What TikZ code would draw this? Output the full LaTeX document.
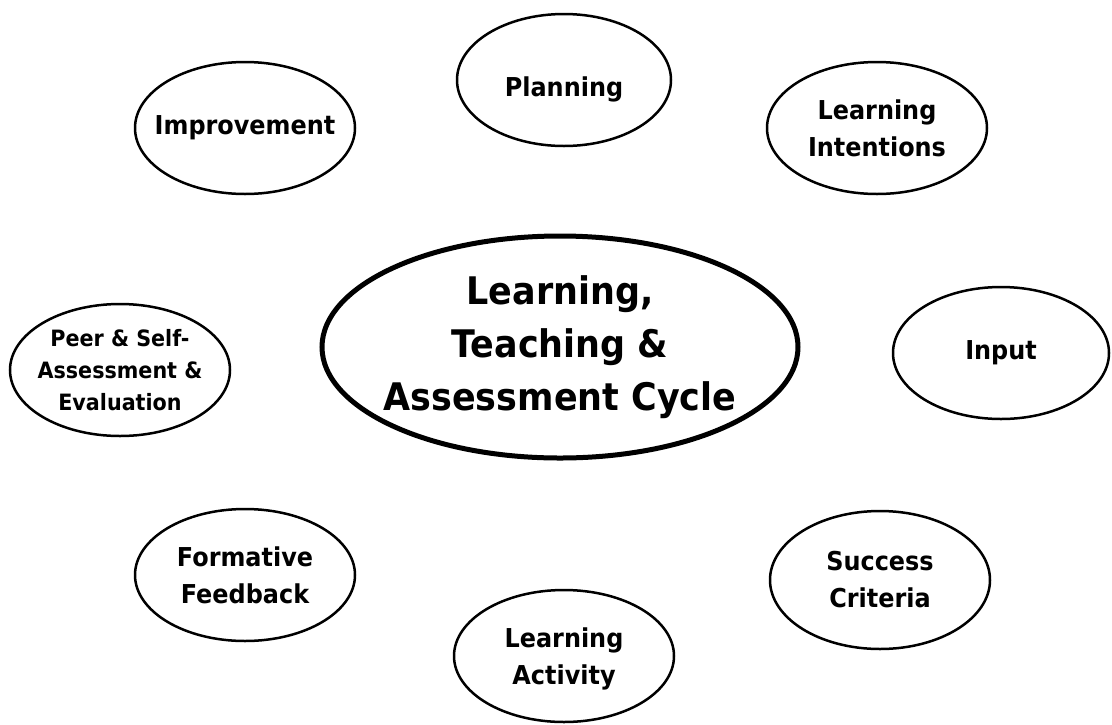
\documentclass[tikz,border=0pt]{standalone}
\usepackage{fontspec}
\setmainfont{DejaVu Sans}[FakeStretch=0.92]
\usetikzlibrary{shapes.geometric}
\begin{document}
\begin{tikzpicture}[x=1pt,y=-1pt,
  bub/.style={ellipse, draw, line width=2.5pt, inner sep=0pt,
    minimum width=220pt, minimum height=132pt},
  hub/.style={ellipse, draw, line width=5pt, inner sep=0pt,
    minimum width=476pt, minimum height=222pt},
  txt/.style={inner sep=0pt, align=center,
    font=\fontsize{26}{37}\selectfont\bfseries},
  hubtxt/.style={inner sep=0pt, align=center,
    font=\fontsize{38}{53}\selectfont\bfseries}]
\useasboundingbox (0,0) rectangle (1112,724);
% ellipses
\node[hub] (hub) at (560,347) {};
\node[bub, minimum width=214pt] (plan) at (564,80) {};
\node[bub] (impr) at (245,128) {};
\node[bub] (li) at (877,128) {};
\node[bub] (peer) at (120,370) {};
\node[bub, minimum width=216pt] (input) at (1001,353) {};
\node[bub] (form) at (245,575) {};
\node[bub, minimum height=138pt] (sc) at (880,580) {};
\node[bub] (la) at (564,656) {};
% texts
\node[hubtxt] (hubt) at (hub.center) {Learning,\\Teaching \&\\Assessment Cycle};
\node[txt, yshift=-9pt] (plant) at (plan.center) {Planning};
\node[txt] (imprt) at (impr.center) {Improvement};
\node[txt] (lit) at (li.center) {Learning\\Intentions};
\node[txt, font=\fontsize{22.5}{32}\selectfont\bfseries] (peert) at (peer.center) {Peer \& Self-\\Assessment \&\\Evaluation};
\node[txt] (inputt) at (input.center) {Input};
\node[txt] (formt) at (form.center) {Formative\\Feedback};
\node[txt] (sct) at (sc.center) {Success\\Criteria};
\node[txt, yshift=-3pt] (lat) at (la.center) {Learning\\Activity};
\end{tikzpicture}
\end{document}
